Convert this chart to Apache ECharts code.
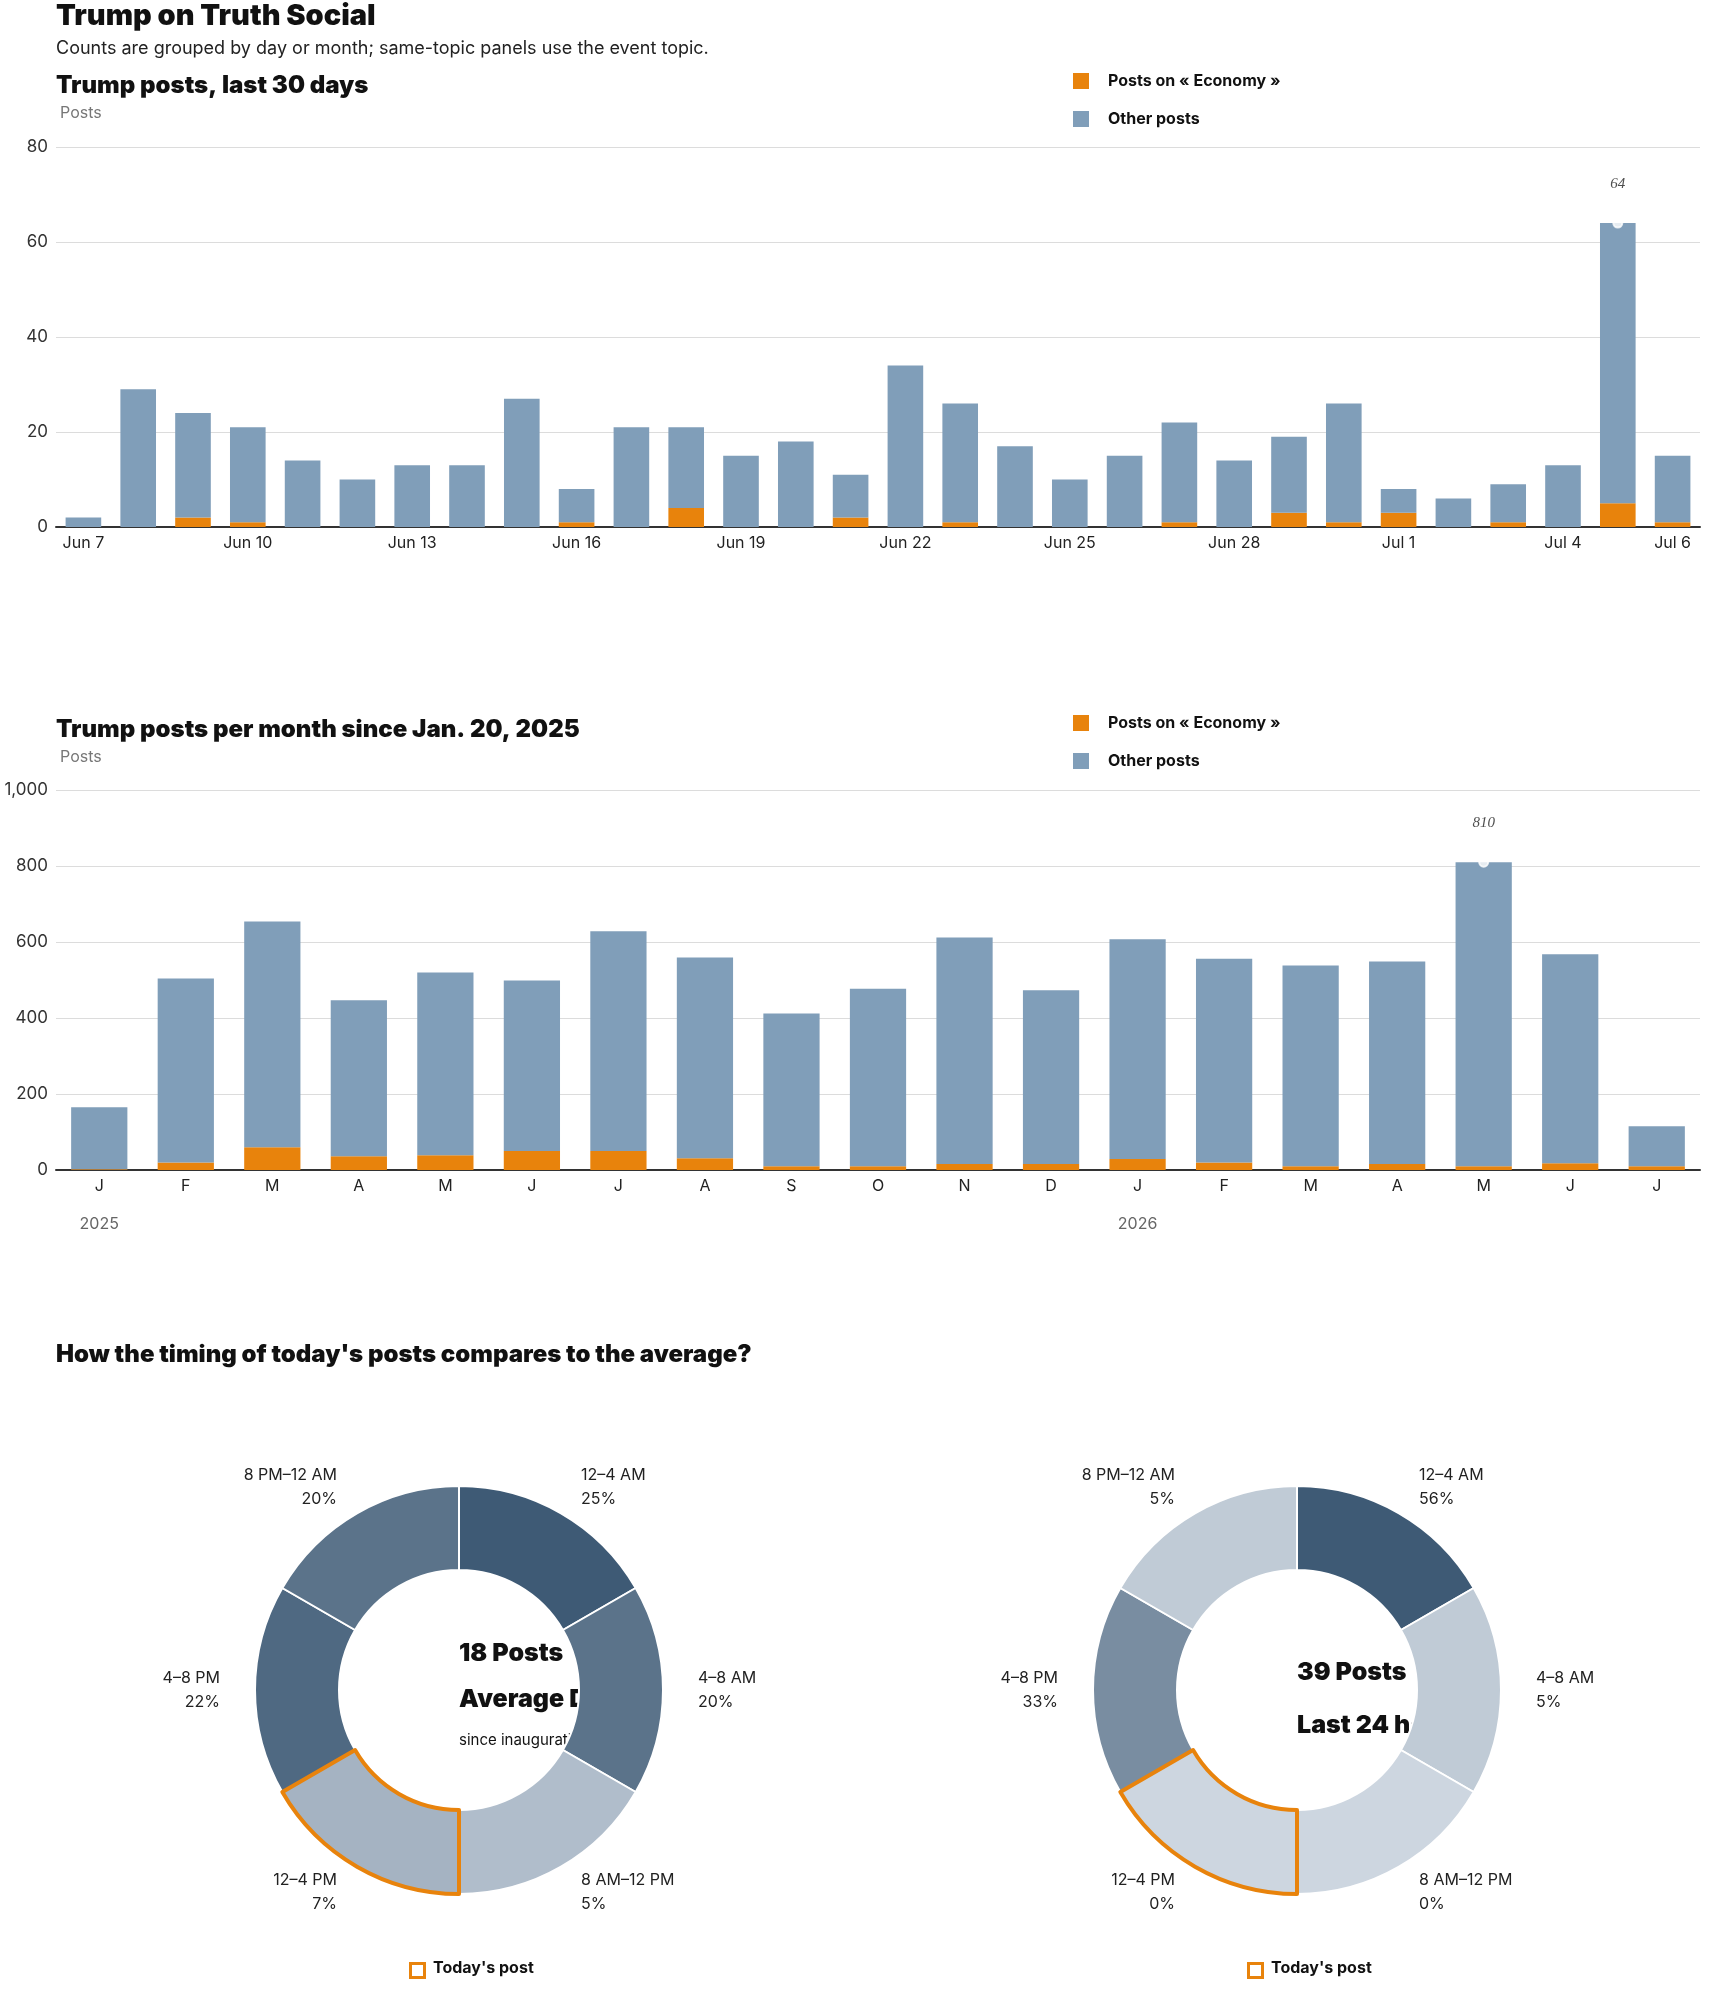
<!DOCTYPE html>
<html>
<head>
<meta charset="utf-8">
<script src="https://cdn.jsdelivr.net/npm/echarts@6/dist/echarts.min.js"></script>
<style>
  html, body { margin: 0; padding: 0; background: #fff; }
  #main { width: 1710px; height: 1993px; }
</style>
</head>
<body>
<div id="main"></div>
<script>
// daily, last 30 days
var dayLabels = ['Jun 7','Jun 8','Jun 9','Jun 10','Jun 11','Jun 12','Jun 13','Jun 14','Jun 15','Jun 16',
  'Jun 17','Jun 18','Jun 19','Jun 20','Jun 21','Jun 22','Jun 23','Jun 24','Jun 25','Jun 26',
  'Jun 27','Jun 28','Jun 29','Jun 30','Jul 1','Jul 2','Jul 3','Jul 4','Jul 5','Jul 6'];
var dayTotal = [2, 29, 24, 21, 14, 10, 13, 13, 27, 8, 21, 21, 15, 18, 11, 34, 26, 17, 10, 15, 22, 14, 19, 26, 8, 6, 9, 13, 64, 15];
var dayEconomy = [0, 0, 2, 1, 0, 0, 0, 0, 0, 1, 0, 4, 0, 0, 2, 0, 1, 0, 0, 0, 1, 0, 3, 1, 3, 0, 1, 0, 5, 1];

// monthly since Jan. 20, 2025
var monthLabels = ['J','F','M','A','M','J','J','A','S','O','N','D','J','F','M','A','M','J','J'];
var yearLabels = ['2025','','','','','','','','','','','','2026','','','','','',''];
var monthTotal = [165, 504, 654, 447, 520, 499, 628, 559, 412, 477, 612, 473, 607, 556, 538, 549, 810, 568, 115];
var monthEconomy = [2, 20, 60, 36, 39, 50, 50, 31, 10, 10, 16, 16, 29, 20, 10, 16, 10, 18, 10];

// time of day
var slots = ['12–4 AM', '4–8 AM', '8 AM–12 PM', '12–4 PM', '4–8 PM', '8 PM–12 AM'];
var avgPct = [25, 20, 5, 7, 22, 20];
var todayPct = [56, 5, 0, 0, 33, 5];
var todaySlot = 3;

var ORANGE = '#e8830c', BLUE = '#809eb9';
var FONT = 'Inter, Roboto, sans-serif';

function minus(a, b) { return a.map(function (v, i) { return v - b[i]; }); }
function maxPoint(arr) {
  var m = Math.max.apply(null, arr);
  return [[arr.indexOf(m), m]];
}
function shade(p, max) {
  var t = max ? p / max : 0;
  var a = [205, 214, 224], b = [62, 90, 117];
  var c = a.map(function (v, i) { return Math.round(v + (b[i] - v) * t); });
  return 'rgb(' + c.join(',') + ')';
}

function barGrid(top) {
  return { left: 56, right: 10, top: top, height: 380 };
}
function legendAt(top) {
  return {
    left: 1068, top: top, orient: 'vertical', itemGap: 22,
    itemWidth: 16, itemHeight: 16, icon: 'rect',
    textStyle: { fontFamily: FONT, fontWeight: 'bold', fontSize: 16, color: '#111', padding: [0, 0, 0, 14] },
    data: ['Posts on « Economy »', 'Other posts']
  };
}
function yAxisFor(gi, max, interval) {
  return {
    gridIndex: gi, min: 0, max: max, interval: interval,
    axisLine: { show: false }, axisTick: { show: false },
    splitLine: { lineStyle: { color: '#dcdcdc' } },
    axisLabel: { color: '#333', fontSize: 17, fontFamily: FONT, margin: 8 }
  };
}

function pieSeries(pct, cx) {
  var max = Math.max.apply(null, pct);
  return {
    type: 'pie', radius: [120, 204], center: [cx, 1690], startAngle: 90,
    silent: true, animation: false,
    label: {
      position: 'outside', fontFamily: FONT, fontSize: 16, color: '#222', lineHeight: 24,
      formatter: function (p) { return slots[p.dataIndex] + '\n' + pct[p.dataIndex] + '%'; }
    },
    labelLine: { show: false, length: 30, length2: 0 },
    data: slots.map(function (s, i) {
      return { name: s, value: 1, itemStyle: { color: shade(pct[i], max), borderColor: '#fff', borderWidth: 2 } };
    })
  };
}
function pieOutline(cx) {
  return {
    type: 'pie', radius: [120, 204], center: [cx, 1690], startAngle: 90,
    silent: true, animation: false, label: { show: false }, labelLine: { show: false }, z: 5,
    data: slots.map(function (s, i) {
      return {
        name: s, value: 1,
        itemStyle: i === todaySlot
          ? { color: 'rgba(0,0,0,0)', borderColor: ORANGE, borderWidth: 4 }
          : { color: 'rgba(0,0,0,0)', borderWidth: 0 }
      };
    })
  };
}

function centerText(x, y, text, size, weight) {
  return { type: 'text', left: x, top: y, style: {
    text: text, x: 0, y: 0, fill: '#111', font: weight + ' ' + size + 'px ' + FONT,
    textAlign: 'center', textVerticalAlign: 'middle' } };
}
function txt(x, y, text, size, weight, color) {
  return { type: 'text', left: x, top: y, style: {
    text: text, fill: color || '#111', font: weight + ' ' + size + 'px ' + FONT } };
}
function todayLegend(x) {
  return [
    { type: 'rect', left: x, top: 1962, shape: { width: 14, height: 14 },
      style: { fill: '#fff', stroke: ORANGE, lineWidth: 3 } },
    txt(x + 24, 1960, "Today's post", 16, 'bold')
  ];
}

var annoLabel = { show: true, position: 'top', distance: 26, fontFamily: 'Liberation Serif, serif',
  fontStyle: 'italic', fontSize: 15, color: '#222', formatter: function (p) { return p.value[1]; } };

var option = {
  animation: false,
  textStyle: { fontFamily: FONT },
  grid: [barGrid(147), barGrid(790)],
  legend: [legendAt(68), legendAt(710)],
  xAxis: [
    { type: 'category', gridIndex: 0, data: dayLabels,
      axisLine: { lineStyle: { color: '#333', width: 2 } }, axisTick: { show: false },
      axisLabel: { color: '#222', fontSize: 16, fontFamily: FONT, margin: 8,
        interval: function (i) { return i % 3 === 0 || i === dayLabels.length - 1; } } },
    { type: 'category', gridIndex: 1, data: monthLabels,
      axisLine: { lineStyle: { color: '#333', width: 2 } }, axisTick: { show: false },
      axisLabel: { color: '#222', fontSize: 16, fontFamily: FONT, margin: 8, interval: 0 } },
    { type: 'category', gridIndex: 1, data: yearLabels, position: 'bottom', offset: 38,
      axisLine: { show: false }, axisTick: { show: false },
      axisLabel: { color: '#666', fontSize: 16, fontFamily: FONT, interval: 0 } }
  ],
  yAxis: [yAxisFor(0, 80, 20), yAxisFor(1, 1000, 200)],
  series: [
    { name: 'Posts on « Economy »', type: 'bar', stack: 'd', xAxisIndex: 0, yAxisIndex: 0,
      barCategoryGap: '35%', itemStyle: { color: ORANGE }, data: dayEconomy },
    { name: 'Other posts', type: 'bar', stack: 'd', xAxisIndex: 0, yAxisIndex: 0,
      itemStyle: { color: BLUE }, data: minus(dayTotal, dayEconomy) },
    { type: 'scatter', xAxisIndex: 0, yAxisIndex: 0, symbol: 'emptyCircle', symbolSize: 9,
      itemStyle: { color: '#fff', borderColor: '#111', borderWidth: 2 }, label: annoLabel,
      data: maxPoint(dayTotal), z: 10 },
    { name: 'Posts on « Economy »', type: 'bar', stack: 'm', xAxisIndex: 1, yAxisIndex: 1,
      barCategoryGap: '35%', itemStyle: { color: ORANGE }, data: monthEconomy },
    { name: 'Other posts', type: 'bar', stack: 'm', xAxisIndex: 1, yAxisIndex: 1,
      itemStyle: { color: BLUE }, data: minus(monthTotal, monthEconomy) },
    { type: 'scatter', xAxisIndex: 1, yAxisIndex: 1, symbol: 'emptyCircle', symbolSize: 9,
      itemStyle: { color: '#fff', borderColor: '#111', borderWidth: 2 }, label: annoLabel,
      data: maxPoint(monthTotal), z: 10 },
    pieSeries(avgPct, 459), pieOutline(459),
    pieSeries(todayPct, 1297), pieOutline(1297)
  ],
  graphic: [
    txt(56, 2, 'Trump on Truth Social', 29, '900'),
    txt(56, 40, 'Counts are grouped by day or month; same-topic panels use the event topic.', 18, 'normal', '#222'),
    txt(56, 74, 'Trump posts, last 30 days', 24, '900'),
    txt(60, 105, 'Posts', 16, 'normal', '#777'),
    txt(56, 718, 'Trump posts per month since Jan. 20, 2025', 24, '900'),
    txt(60, 749, 'Posts', 16, 'normal', '#777'),
    txt(56, 1343, "How the timing of today's posts compares to the average?", 24, '900'),
    centerText(459, 1641, '18 Posts', 25, '900'),
    centerText(459, 1687, 'Average Day', 25, '900'),
    centerText(459, 1733, 'since inauguration', 15, 'normal'),
    centerText(1297, 1660, '39 Posts', 25, '900'),
    centerText(1297, 1713, 'Last 24 hours', 25, '900')
  ].concat(todayLegend(409), todayLegend(1247))
};

var myChart = echarts.init(document.getElementById('main'));
myChart.setOption(option);
</script>
</body>
</html>
